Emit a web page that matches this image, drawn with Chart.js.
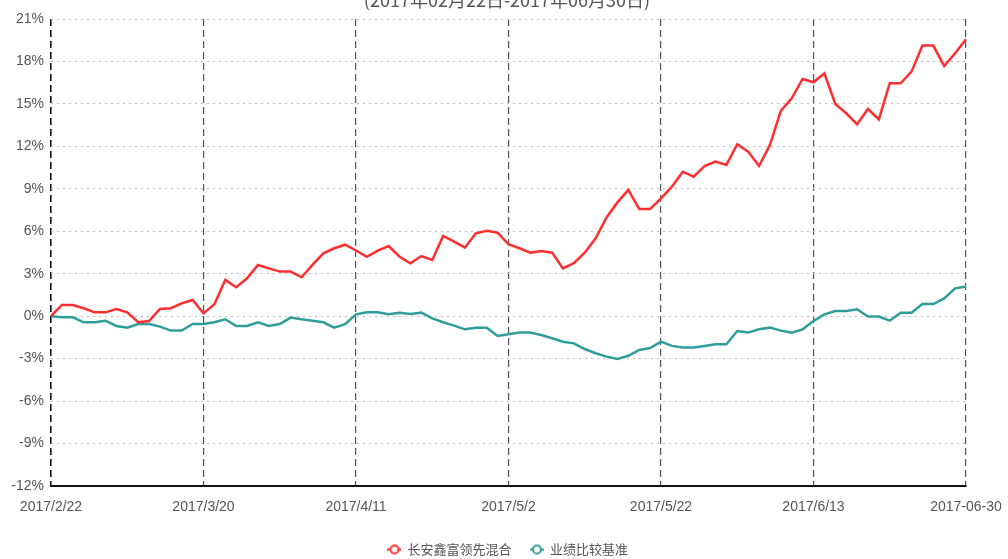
<!DOCTYPE html>
<html>
<head>
<meta charset="utf-8">
<script src="https://cdn.jsdelivr.net/npm/chart.js@4"></script>
<style>
  body { margin: 0; background: #fff; }
</style>
</head>
<body>
<canvas id="myLineChart" width="1008" height="559"></canvas>
<script>
// 날짜 (카테고리)
const dates = [
    '2017/2/22', '2017/2/23', '2017/2/24', '2017/2/27', '2017/2/28', '2017/3/1', '2017/3/2', '2017/3/3',
    '2017/3/6', '2017/3/8', '2017/3/10', '2017/3/13', '2017/3/15', '2017/3/17',
    '2017/3/20', '2017/3/21', '2017/3/22', '2017/3/23', '2017/3/24', '2017/3/27', '2017/3/28', '2017/3/29',
    '2017/3/30', '2017/3/31', '2017/4/5', '2017/4/6', '2017/4/7', '2017/4/10',
    '2017/4/11', '2017/4/12', '2017/4/13', '2017/4/14', '2017/4/17', '2017/4/18', '2017/4/19', '2017/4/20',
    '2017/4/21', '2017/4/24', '2017/4/25', '2017/4/26', '2017/4/27', '2017/4/28',
    '2017/5/2', '2017/5/3', '2017/5/4', '2017/5/5', '2017/5/8', '2017/5/9', '2017/5/10', '2017/5/11',
    '2017/5/12', '2017/5/15', '2017/5/16', '2017/5/17', '2017/5/18', '2017/5/19',
    '2017/5/22', '2017/5/23', '2017/5/24', '2017/5/25', '2017/5/26', '2017/5/31', '2017/6/1', '2017/6/2',
    '2017/6/5', '2017/6/6', '2017/6/7', '2017/6/8', '2017/6/9', '2017/6/12',
    '2017/6/13', '2017/6/14', '2017/6/15', '2017/6/16', '2017/6/19', '2017/6/20', '2017/6/21', '2017/6/22',
    '2017/6/23', '2017/6/24', '2017/6/26', '2017/6/27', '2017/6/28', '2017/6/29',
    '2017-06-30'
];

// 표시할 x축 라벨 (14개 간격)
const tickDates = ['2017/2/22', '2017/3/20', '2017/4/11', '2017/5/2', '2017/5/22', '2017/6/13', '2017-06-30'];

// 长安鑫富领先混合 (%)
const fundReturn = [
    0, 0.79, 0.79, 0.56, 0.27, 0.27, 0.51, 0.27, -0.43, -0.34,
    0.51, 0.56, 0.91, 1.14, 0.2, 0.84, 2.56, 2.04, 2.68, 3.62,
    3.38, 3.15, 3.15, 2.75, 3.62, 4.44, 4.8, 5.05, 4.64, 4.2,
    4.63, 4.96, 4.2, 3.74, 4.25, 3.97, 5.67, 5.27, 4.84, 5.86,
    6.04, 5.9, 5.08, 4.8, 4.49, 4.61, 4.49, 3.38, 3.74, 4.49,
    5.5, 6.98, 8.04, 8.92, 7.58, 7.58, 8.33, 9.15, 10.21, 9.86,
    10.61, 10.92, 10.69, 12.15, 11.63, 10.61, 12.1, 14.5, 15.4, 16.76,
    16.53, 17.16, 15.0, 14.34, 13.56, 14.64, 13.91, 16.46, 16.46, 17.28,
    19.12, 19.12, 17.68, 18.58, 19.57
];

// 业绩比较基准 (%)
const benchReturn = [
    0, -0.08, -0.08, -0.43, -0.43, -0.32, -0.69, -0.81, -0.55, -0.55,
    -0.74, -1.02, -1.02, -0.55, -0.55, -0.43, -0.22, -0.69, -0.69, -0.43,
    -0.69, -0.55, -0.1, -0.22, -0.32, -0.43, -0.81, -0.57, 0.13, 0.27,
    0.27, 0.13, 0.25, 0.15, 0.25, -0.15, -0.43, -0.67, -0.93, -0.81,
    -0.81, -1.4, -1.28, -1.16, -1.16, -1.33, -1.56, -1.8, -1.92, -2.32,
    -2.62, -2.86, -3.03, -2.8, -2.39, -2.25, -1.8, -2.1, -2.22, -2.22,
    -2.1, -1.99, -1.99, -1.05, -1.16, -0.93, -0.81, -1.02, -1.16, -0.93,
    -0.34, 0.13, 0.37, 0.37, 0.49, -0.03, -0.03, -0.32, 0.25, 0.25,
    0.86, 0.86, 1.26, 1.97, 2.09
];

const seriesNames = ['长安鑫富领先混合', '业绩比较基准'];
const titleText = '(2017年02月22日-2017年06月30日)';

const RED = '#ff2f2f';
const TEAL = '#2f9e9a';
const FONT = "'Liberation Sans', 'Noto Sans CJK SC', sans-serif";

// 범례 아이콘 (선 + 빈 원)
function legendIcon(color) {
    const c = document.createElement('canvas');
    c.width = 14;
    c.height = 12;
    const g = c.getContext('2d');
    g.strokeStyle = color;
    g.lineWidth = 2;
    g.beginPath();
    g.moveTo(0, 6);
    g.lineTo(14, 6);
    g.stroke();
    g.beginPath();
    g.arc(7, 6, 4, 0, Math.PI * 2);
    g.fillStyle = '#fff';
    g.fill();
    g.stroke();
    return c;
}

// 잘린 제목 그리기
const topTitle = {
    id: 'topTitle',
    afterDraw(chart) {
        const c = chart.ctx;
        c.save();
        c.font = "18px 'Noto Sans CJK SC', sans-serif";
        c.fillStyle = '#555';
        c.textAlign = 'center';
        c.textBaseline = 'alphabetic';
        c.fillText(titleText, 507, 7);
        c.restore();
    }
};

// 범례 위치 미세 조정
const legendShift = {
    id: 'legendShift',
    afterLayout(chart) {
        chart.legend.left += 25;
        chart.legend.right += 25;
        chart.legend.top += 7;
        chart.legend.bottom += 7;
    }
};

const ctx = document.getElementById('myLineChart').getContext('2d');
const myLineChart = new Chart(ctx, {
    type: 'line',
    data: {
        labels: dates,
        datasets: [{
            label: seriesNames[0],
            data: fundReturn,
            borderColor: RED,
            backgroundColor: RED,
            borderWidth: 2.5,
            pointRadius: 0,
            tension: 0,
            pointStyle: legendIcon(RED)
        }, {
            label: seriesNames[1],
            data: benchReturn,
            borderColor: TEAL,
            backgroundColor: TEAL,
            borderWidth: 2.5,
            pointRadius: 0,
            tension: 0,
            pointStyle: legendIcon(TEAL)
        }]
    },
    options: {
        responsive: false,
        animation: false,
        layout: { padding: { top: 19, right: 42, left: 0, bottom: 0 } },
        plugins: {
            tooltip: { enabled: false },
            legend: {
                position: 'bottom',
                labels: {
                    usePointStyle: true,
                    color: '#555',
                    font: { family: "'Noto Sans CJK SC', sans-serif", size: 13 },
                    padding: 19,
                    boxHeight: 12
                }
            }
        },
        scales: {
            x: {
                type: 'category',
                offset: false,
                afterFit(scale) { scale.height = 31; },
                grid: {
                    color: ctx => ctx.index === 0 ? '#111' : '#555',
                    lineWidth: ctx => ctx.index === 0 ? 1.6 : 1.2,
                    drawTicks: true,
                    tickLength: 7,
                    tickColor: 'rgba(0,0,0,0)'
                },
                // v4: border.dash 는 격자선에 적용됨
                border: { display: true, color: '#111', width: 2, dash: [7, 4] },
                ticks: {
                    autoSkip: false,
                    maxRotation: 0,
                    padding: 6,
                    color: '#555',
                    font: { family: FONT, size: 14 },
                    callback(value, index) {
                        const d = dates[index];
                        return tickDates.includes(d) ? d : null;
                    }
                }
            },
            y: {
                min: -12,
                max: 21,
                afterFit(scale) { scale.width = 51; },
                grid: {
                    color: '#bbb',
                    lineWidth: 1,
                    drawTicks: false
                },
                border: { display: false, dash: [2, 4] },
                ticks: {
                    stepSize: 3,
                    padding: 7,
                    color: '#555',
                    font: { family: FONT, size: 14 },
                    callback: v => v + '%'
                }
            }
        }
    },
    plugins: [topTitle, legendShift]
});
</script>
</body>
</html>
